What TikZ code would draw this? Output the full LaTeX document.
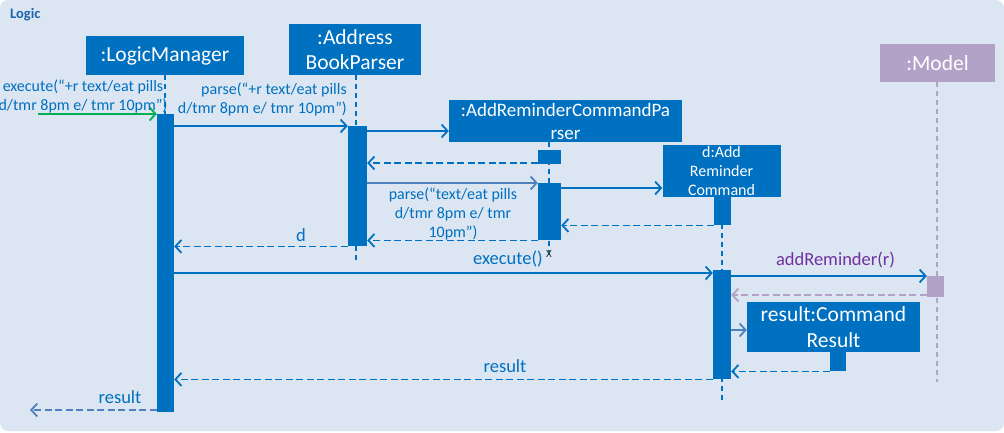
\documentclass[tikz,border=0pt]{standalone}
\usepackage{fontspec}
\setmainfont{Carlito}
\usetikzlibrary{arrows.meta}
\definecolor{bg}{HTML}{DCE6F2}
\definecolor{umlblue}{HTML}{0070C0}
\definecolor{steel}{HTML}{4F81BD}
\definecolor{okgreen}{HTML}{00B050}
\definecolor{modelpurple}{HTML}{B3A2C7}
\definecolor{callpurple}{HTML}{7030A0}
\definecolor{titleblue}{HTML}{1E62AA}
\newcommand{\fs}[2]{\fontsize{#1}{#2}\selectfont}
\begin{document}
\begin{tikzpicture}[x=1pt,y=-1pt,
    obj/.style={fill=umlblue,text=white,inner sep=0pt,align=center},
    act/.style={fill=umlblue,inner sep=0pt,anchor=north},
    life/.style={umlblue,line width=1.6pt,dash pattern=on 5pt off 4pt},
    msg/.style={umlblue,line width=1.8pt,-{Straight Barb[length=6pt,width=13pt]}},
    ret/.style={msg,dash pattern=on 7pt off 3.5pt},
    lbl/.style={text=umlblue,inner sep=0pt,align=center}]
  \useasboundingbox (0,0) rectangle (1004,433);
  \fill[white] (0,0) rectangle (1004,433);
  \fill[bg,rounded corners=8pt] (0,0) rectangle (1004,431);
  \node[text=titleblue,anchor=west,inner sep=0pt,font=\bfseries\fs{14.5}{16}] (title) at (10,15) {Logic};

  % participants
  \node[obj,minimum width=158,minimum height=39,font=\fs{21.5}{25}] (lm) at (165,55.5) {:LogicManager};
  \node[obj,minimum width=132,minimum height=51,font=\fs{21.5}{25}] (abp) at (355,49.5) {:Address\\BookParser};
  \node[obj,minimum width=233,minimum height=42,font=\fs{19}{23}] (arcp) at (565.5,121) {:AddReminderCommandPa\\rser};
  \node[obj,minimum width=118,minimum height=51,font=\fs{16}{19}] (darc) at (721.5,171) {d:Add\\Reminder\\Command};
  \node[obj,fill=modelpurple,minimum width=115,minimum height=38,font=\fs{21.5}{25}] (model) at (937.5,63) {:Model};
  \node[obj,minimum width=173,minimum height=50,font=\fs{21.5}{26}] (res) at (833.5,327) {result:Command\\Result};

  % lifelines
  \coordinate (lmEnd) at (165,412);
  \coordinate (abpEnd) at (356,260);
  \coordinate (arcpEnd) at (549,258);
  \coordinate (darcEnd) at (722,402);
  \coordinate (modelEnd) at (937,382);
  \draw[life] (lm.south -| lmEnd) -- (lmEnd);
  \draw[life] (abp.south -| abpEnd) -- (abpEnd);
  \draw[life] (arcp.south -| arcpEnd) -- (arcpEnd);
  \draw[life] (darc.south -| darcEnd) -- (darcEnd);
  \draw[life,modelpurple] (model.south -| modelEnd) -- (modelEnd);
  \node[inner sep=0pt,text=black!80,font=\fs{11}{12}] (kill) at (549,254) {X};

  % activations
  \node[act,minimum width=17,minimum height=298] (lmAct) at (165.5,114) {};
  \node[act,minimum width=19,minimum height=120] (abpAct) at (357.5,126) {};
  \node[act,minimum width=23,minimum height=14] (arcpActA) at (549.5,150) {};
  \node[act,minimum width=23,minimum height=57] (arcpActB) at (549.5,183) {};
  \node[act,minimum width=17,minimum height=29] (darcActA) at (722.5,196) {};
  \node[act,minimum width=18,minimum height=109] (darcActB) at (722,270) {};
  \node[act,fill=modelpurple,minimum width=17,minimum height=21] (modelAct) at (935.5,276) {};
  \node[act,minimum width=16,minimum height=19] (resAct) at (838,352) {};

  % messages
  \coordinate (entry) at (38,114);
  \coordinate (exit) at (30,410);
  \draw[msg,okgreen] (entry) -- (lmAct.north west);
  \draw[msg] (lmAct.east |- abpAct.north) -- (abpAct.north west);
  \draw[msg] (abpAct.east |- 0,131) -- (arcp.west |- 0,131);
  \draw[ret] (arcpActA.west |- 0,163) -- (abpAct.east |- 0,163);
  \draw[msg,steel] (abpAct.east |- arcpActB.north) -- (arcpActB.north west);
  \draw[msg] (arcpActB.east |- 0,188) -- (darc.west |- 0,188);
  \draw[ret] (darcActA.south west) -- (arcpActB.east |- darcActA.south);
  \draw[ret] (arcpActB.south west) -- (abpAct.east |- arcpActB.south);
  \draw[ret] (abpAct.south west) -- (lmAct.east |- abpAct.south);
  \draw[msg] (lmAct.east |- 0,273) -- (darcActB.west |- 0,273);
  \draw[msg] (darcActB.east |- modelAct.north) -- (modelAct.north west);
  \draw[ret,modelpurple] (modelAct.west |- 0,295) -- (darcActB.east |- 0,295);
  \draw[msg,steel] (darcActB.east |- 0,330) -- (res.west |- 0,330);
  \draw[ret] (resAct.south west) -- (darcActB.east |- resAct.south);
  \draw[ret] (darcActB.south west) -- (lmAct.east |- darcActB.south);
  \draw[ret,steel] (lmAct.south west |- exit) -- (exit);

  % labels
  \node[lbl,font=\fs{16}{19}] (execLbl) at (83,96) {execute(“+r text/eat pills\\d/tmr 8pm e/ tmr 10pm”)};
  \node[lbl,align=right,anchor=east,font=\fs{16}{19}] (parseLbl) at (347,99) {parse(“+r text/eat pills\\d/tmr 8pm e/ tmr 10pm”)};
  \node[lbl,font=\fs{16}{19}] (parseTwoLbl) at (453,214) {parse(“text/eat pills\\d/tmr 8pm e/ tmr\\10pm”)};
  \node[lbl,font=\fs{18.5}{20}] (dLbl) at (301,235) {d};
  \node[lbl,font=\fs{18.5}{20}] (runLbl) at (508,259) {execute()};
  \node[lbl,text=callpurple,font=\fs{18.5}{20}] (addLbl) at (835.5,260) {addReminder(r)};
  \node[lbl,font=\fs{18.5}{20}] (resLbl) at (505,366) {result};
  \node[lbl,font=\fs{18.5}{20}] (outLbl) at (120,397) {result};
\end{tikzpicture}
\end{document}
